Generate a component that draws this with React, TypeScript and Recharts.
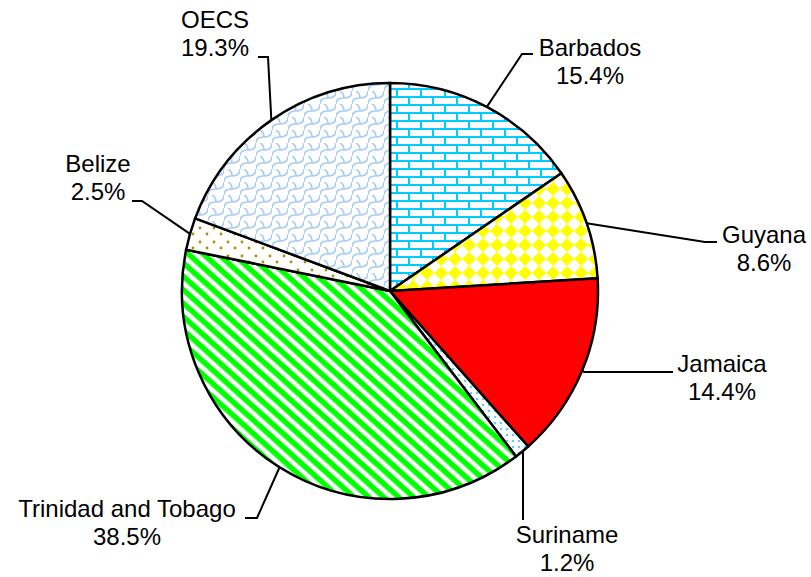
import React from 'react';
import { PieChart, Pie, Cell } from 'recharts';

const categories = ['Barbados', 'Guyana', 'Jamaica', 'Suriname', 'Trinidad and Tobago', 'Belize', 'OECS'];
const shares = [15.4, 8.6, 14.4, 1.2, 38.5, 2.5, 19.3];
const percentLabels = ['15.4%', '8.6%', '14.4%', '1.2%', '38.5%', '2.5%', '19.3%'];

const data = categories.map((name, i) => ({ name, value: shares[i], label: percentLabels[i] }));

const fills = ['url(#pBrick)', 'url(#pDiamond)', '#FF0000', 'url(#pDots)', 'url(#pStripe)', 'url(#pConfetti)', 'url(#pScale)'];

// label layout relative to pie centre: elbow, end of leader, text centre x, first baseline y
const labelLayout = [
  { ex: 132, ey: -237, tx: 143, ty: -237, cx: 200, by: -235 },
  { ex: 315, ey: -49, tx: 327, ty: -49, cx: 374, by: -48 },
  { ex: 194, ey: 81, tx: 283, ty: 81, cx: 332, by: 81 },
  { ex: 133, ey: 161, tx: 133, ty: 229, cx: 177, by: 252 },
  { ex: -133, ey: 227, tx: -145, ty: 227, cx: -263, by: 226 },
  { ex: -248, ey: -90, tx: -258, ty: -90, cx: -292, by: -119 },
  { ex: -122, ey: -234, tx: -132, ty: -234, cx: -175, by: -263 },
];

const RAD = Math.PI / 180;

const renderLabel = (props: any) => {
  const { cx, cy, midAngle, outerRadius, index } = props;
  const L = labelLayout[index];
  const sx = cx + outerRadius * Math.cos(-midAngle * RAD);
  const sy = cy + outerRadius * Math.sin(-midAngle * RAD);
  const d = data[index];
  return (
    <g key={`lbl-${index}`}>
      <polyline
        points={`${sx},${sy} ${cx + L.ex},${cy + L.ey} ${cx + L.tx},${cy + L.ty}`}
        fill="none"
        stroke="#000"
        strokeWidth={2}
      />
      <text
        x={cx + L.cx}
        y={cy + L.by}
        textAnchor="middle"
        fontFamily="'Liberation Sans', Arial, sans-serif"
        fontSize={24}
        fill="#000"
      >
        <tspan x={cx + L.cx} y={cy + L.by}>{d.name}</tspan>
        <tspan x={cx + L.cx} y={cy + L.by + 28}>{d.label}</tspan>
      </text>
    </g>
  );
};

const Patterns = () => (
  <svg width={0} height={0} style={{ position: 'absolute' }}>
    <defs>
      <pattern id="pBrick" patternUnits="userSpaceOnUse" width={24} height={16}>
        <rect width={24} height={16} fill="#fff" />
        <rect x={0} y={0} width={24} height={2} fill="#00CCFF" />
        <rect x={0} y={8} width={24} height={2} fill="#00CCFF" />
        <rect x={0} y={0} width={2} height={8} fill="#00CCFF" />
        <rect x={12} y={8} width={2} height={8} fill="#00CCFF" />
      </pattern>
      <pattern id="pDiamond" patternUnits="userSpaceOnUse" width={14} height={14}>
        <rect width={14} height={14} fill="#fff" />
        <polygon points="7,0 14,7 7,14 0,7" fill="#FFFF00" />
      </pattern>
      <pattern id="pDots" patternUnits="userSpaceOnUse" width={6} height={6}>
        <rect width={6} height={6} fill="#fff" />
        <circle cx={3} cy={3} r={1.3} fill="#66CCFF" />
      </pattern>
      <pattern id="pStripe" patternUnits="userSpaceOnUse" width={10} height={10} patternTransform="rotate(42)">
        <rect width={10} height={10} fill="#fff" />
        <rect x={0} y={0} width={10} height={5.5} fill="#00FF00" />
      </pattern>
      <pattern id="pConfetti" patternUnits="userSpaceOnUse" width={14} height={14}>
        <rect width={14} height={14} fill="#fff" />
        <circle cx={4} cy={4} r={1.4} fill="#999900" />
        <circle cx={11} cy={10} r={1.4} fill="#999900" />
      </pattern>
      <pattern id="pScale" patternUnits="userSpaceOnUse" width={16} height={13}>
        <rect width={16} height={13} fill="#fff" />
        <path d="M0,13 C0,8 4,7 8,7 C12,7 16,6 16,0" fill="none" stroke="#A6CCF5" strokeWidth={1.6} />
        <path d="M8,7 C8,3 6,1 4,0" fill="none" stroke="#A6CCF5" strokeWidth={1.6} />
      </pattern>
    </defs>
  </svg>
);

export default function App() {
  return (
    <div style={{ position: 'absolute', left: 0, top: 0, width: 811, height: 577, background: '#fff' }}>
      <Patterns />
      <PieChart width={811} height={577} margin={{ top: 0, right: 0, bottom: 0, left: 0 }}>
        <Pie
          data={data}
          dataKey="value"
          nameKey="name"
          cx={390}
          cy={291}
          outerRadius={208}
          startAngle={90}
          endAngle={-270}
          stroke="#000"
          strokeWidth={2.5}
          label={renderLabel}
          labelLine={false}
          isAnimationActive={false}
        >
          {data.map((d, i) => (
            <Cell key={d.name} fill={fills[i]} />
          ))}
        </Pie>
      </PieChart>
    </div>
  );
}
